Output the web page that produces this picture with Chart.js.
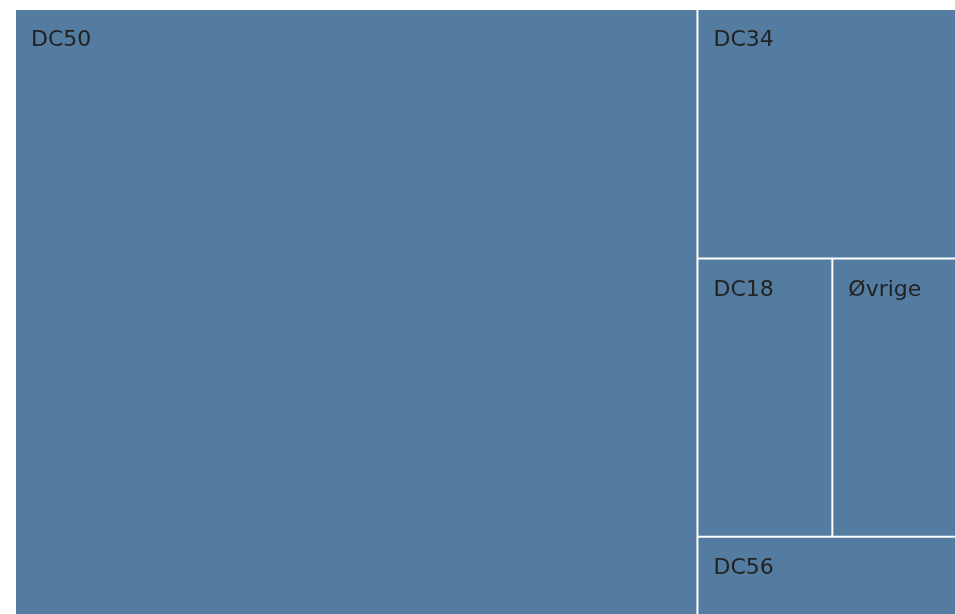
<!DOCTYPE html>
<html>
<head>
<meta charset="utf-8">
<script src="https://cdn.jsdelivr.net/npm/chart.js@4/dist/chart.umd.min.js"></script>
<style>
  html, body { margin: 0; padding: 0; background: #ffffff; overflow: hidden; }
  #wrap { width: 955px; height: 614px; position: relative; }
</style>
</head>
<body>
<div id="wrap"><canvas id="c"></canvas></div>
<script>
// Data (share of total)
const categories = ['DC50', 'DC34', 'DC18', 'Øvrige', 'DC56'];
const values = [72.6, 11.3, 6.6, 6.0, 3.5];

// Data-space extent of the treemap (aspect of the plotted area)
const X_MAX = 940;
const Y_MAX = 605;

// d3-style squarify (golden ratio)
function squarify(items, x0, y0, x1, y1) {
  const ratio = (1 + Math.sqrt(5)) / 2;
  const out = [];
  let value = items.reduce((s, d) => s + d.value, 0);
  let i0 = 0, i1 = 0;
  const n = items.length;
  while (i0 < n) {
    const dx = x1 - x0, dy = y1 - y0;
    let sumValue = items[i1++].value;
    let minValue = sumValue, maxValue = sumValue;
    const alpha = Math.max(dy / dx, dx / dy) / (value * ratio);
    let beta = sumValue * sumValue * alpha;
    let minRatio = Math.max(maxValue / beta, beta / minValue);
    for (; i1 < n; ++i1) {
      const nv = items[i1].value;
      sumValue += nv;
      if (nv < minValue) minValue = nv;
      if (nv > maxValue) maxValue = nv;
      beta = sumValue * sumValue * alpha;
      const newRatio = Math.max(maxValue / beta, beta / minValue);
      if (newRatio > minRatio) { sumValue -= nv; break; }
      minRatio = newRatio;
    }
    const row = items.slice(i0, i1);
    if (dx < dy) {
      const ny = y0 + dy * sumValue / value;
      let cx = x0;
      row.forEach(d => {
        const w = dx * d.value / sumValue;
        out.push({ label: d.label, x0: cx, y0: y0, x1: cx + w, y1: ny });
        cx += w;
      });
      y0 = ny;
    } else {
      const nx = x0 + dx * sumValue / value;
      let cy = y0;
      row.forEach(d => {
        const h = dy * d.value / sumValue;
        out.push({ label: d.label, x0: x0, y0: cy, x1: nx, y1: cy + h });
        cy += h;
      });
      x0 = nx;
    }
    value -= sumValue;
    i0 = i1;
  }
  return out;
}

const items = categories.map((c, i) => ({ label: c, value: values[i] }))
  .sort((a, b) => b.value - a.value);
const tiles = squarify(items, 0, 0, X_MAX, Y_MAX);

const treemapPlugin = {
  id: 'treemapTiles',
  afterDatasetsDraw(chart) {
    const ctx = chart.ctx;
    const xs = chart.scales.x, ys = chart.scales.y;
    ctx.save();
    tiles.forEach(t => {
      const px0 = xs.getPixelForValue(t.x0);
      const px1 = xs.getPixelForValue(t.x1);
      const py0 = ys.getPixelForValue(t.y0);
      const py1 = ys.getPixelForValue(t.y1);
      const l = Math.min(px0, px1) + 1;
      const r = t.x1 >= X_MAX - 0.001 ? chart.width : Math.max(px0, px1) - 1;
      const tp = Math.min(py0, py1) + 1;
      const b = t.y1 >= Y_MAX - 0.001 ? chart.height : Math.max(py0, py1) - 1;
      ctx.fillStyle = 'rgb(84,123,160)';
      ctx.fillRect(l, tp, r - l, b - tp);
      ctx.fillStyle = '#222222';
      ctx.font = '22px "DejaVu Sans", Verdana, sans-serif';
      ctx.textBaseline = 'alphabetic';
      ctx.textAlign = 'left';
      ctx.fillText(t.label, l + 15, tp + 36);
    });
    ctx.restore();
  }
};

new Chart(document.getElementById('c'), {
  type: 'scatter',
  data: { datasets: [{ data: [], pointRadius: 0 }] },
  options: {
    responsive: true,
    maintainAspectRatio: false,
    animation: false,
    layout: { padding: { left: 15, top: 9, right: 0, bottom: 0 } },
    plugins: { legend: { display: false }, tooltip: { enabled: false } },
    scales: {
      x: { type: 'linear', min: 0, max: X_MAX, display: false },
      y: { type: 'linear', min: 0, max: Y_MAX, reverse: true, display: false }
    }
  },
  plugins: [treemapPlugin]
});
</script>
</body>
</html>
